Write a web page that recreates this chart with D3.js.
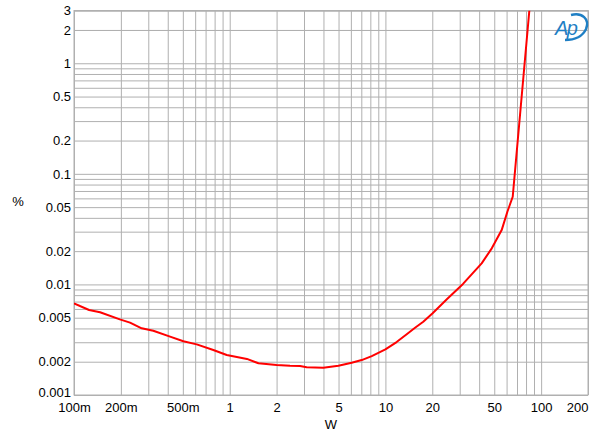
<!DOCTYPE html>
<html>
<head>
<meta charset="utf-8">
<script src="https://cdn.jsdelivr.net/npm/d3@7"></script>
<style>
  html, body { margin: 0; padding: 0; background: #fff; }
  svg { display: block; font-family: "Liberation Sans", Arial, sans-serif; }
</style>
</head>
<body>
<svg id="chart" width="600" height="440"></svg>
<script>
// ---- data ----
const powerW = [0.1, 0.125, 0.147, 0.197, 0.229, 0.272, 0.323, 0.414, 0.504, 0.614, 0.785, 0.957,
  1.29, 1.53, 2.0, 2.44, 2.83, 3.12, 3.99, 4.99, 6.07, 7.04, 8.17, 10.0, 11.8, 13.7, 15.5, 17.5,
  20.1, 24.8, 31.5, 41.5, 48.2, 55.8, 60.7, 65.7, 84];
const thdPct = [0.00675, 0.00587, 0.0056, 0.00483, 0.00451, 0.00401, 0.00381, 0.00337, 0.00306,
  0.00287, 0.00255, 0.0023, 0.00212, 0.001935, 0.00187, 0.00184, 0.00183, 0.00178, 0.001766,
  0.00184, 0.00196, 0.00207, 0.00225, 0.00259, 0.00301, 0.00354, 0.00406, 0.0046, 0.00548,
  0.00733, 0.0101, 0.0155, 0.0212, 0.031, 0.0454, 0.0621, 3.0];

const xTickValues = [0.1, 0.2, 0.5, 1, 2, 5, 10, 20, 50, 100, 200];
const xTickLabels = ["100m", "200m", "500m", "1", "2", "5", "10", "20", "50", "100", "200"];
const yTickValues = [0.001, 0.002, 0.005, 0.01, 0.02, 0.05, 0.1, 0.2, 0.5, 1, 2, 3];
const yTickLabels = ["0.001", "0.002", "0.005", "0.01", "0.02", "0.05", "0.1", "0.2", "0.5", "1", "2", "3"];
const xTitle = "W";
const yTitle = "%";

// ---- layout ----
const svg = d3.select("#chart");
const L = 74, R = 588, T = 10.5, B = 395;
const x = d3.scaleLog().domain([0.1, 200]).range([L, R]);
const y = d3.scaleLog().domain([0.001, 3]).range([B, T]);

// grid values (1..9 per decade)
const xGrid = [];
for (let e = -1; e <= 2; e++) for (let m = 1; m <= 9; m++) {
  const v = +(m * Math.pow(10, e)).toPrecision(3);
  if (v >= 0.1 && v <= 200) xGrid.push(v);
}
xGrid.push(200);
const yGrid = [];
for (let e = -3; e <= 0; e++) for (let m = 1; m <= 9; m++) {
  const v = +(m * Math.pow(10, e)).toPrecision(3);
  if (v >= 0.001 && v <= 3) yGrid.push(v);
}
yGrid.push(2, 3);

const gridColor = "#b0b0b0";

// vertical grid via axis
const gx = svg.append("g").attr("transform", `translate(0,${B})`)
  .call(d3.axisBottom(x).tickValues(xGrid).tickSize(-(B - T)).tickFormat(""));
gx.select(".domain").remove();
gx.selectAll("line").attr("stroke", gridColor).attr("stroke-width", 1);

// horizontal grid via axis
const gy = svg.append("g").attr("transform", `translate(${L},0)`)
  .call(d3.axisLeft(y).tickValues(yGrid).tickSize(-(R - L)).tickFormat(""));
gy.select(".domain").remove();
gy.selectAll("line").attr("stroke", gridColor).attr("stroke-width", 1);

// frame
svg.append("rect").attr("x", L).attr("y", T).attr("width", R - L).attr("height", B - T)
  .attr("fill", "none").attr("stroke", gridColor).attr("stroke-width", 1);

// tick labels
const ax = svg.append("g").attr("transform", `translate(0,${B})`)
  .call(d3.axisBottom(x).tickValues(xTickValues).tickSize(0).tickPadding(0)
    .tickFormat((d, i) => xTickLabels[i]));
ax.select(".domain").remove();
ax.selectAll("text").attr("font-size", 13).attr("fill", "#000")
  .attr("font-family", "Liberation Sans, Arial, sans-serif")
  .attr("dy", null).attr("y", 16.5)
  .attr("text-anchor", (d, i) => i === xTickLabels.length - 1 ? "end" : "middle");

const ay = svg.append("g").attr("transform", `translate(${L},0)`)
  .call(d3.axisLeft(y).tickValues(yTickValues).tickSize(0).tickPadding(3)
    .tickFormat((d, i) => yTickLabels[i]));
ay.select(".domain").remove();
ay.selectAll("text").attr("font-size", 13).attr("fill", "#000")
  .attr("font-family", "Liberation Sans, Arial, sans-serif")
  .attr("y", (d, i) => i === 0 ? -2.5 : 0);

// axis titles
svg.append("text").attr("x", (L + R) / 2).attr("y", 429).attr("text-anchor", "middle")
  .attr("font-size", 13).text(xTitle);
svg.append("text").attr("x", 18).attr("y", 206).attr("text-anchor", "middle")
  .attr("font-size", 13).text(yTitle);

// curve
svg.append("clipPath").attr("id", "clip").append("rect")
  .attr("x", L).attr("y", T).attr("width", R - L).attr("height", B - T);
const line = d3.line().x((d, i) => x(powerW[i])).y((d, i) => y(thdPct[i]));
svg.append("path").datum(thdPct).attr("clip-path", "url(#clip)")
  .attr("d", line).attr("fill", "none").attr("stroke", "#ff0000")
  .attr("stroke-width", 2).attr("stroke-linejoin", "round");

// AP logo
const logo = svg.append("g").attr("transform", "translate(555,13)");
logo.append("path")
  .attr("d", "M16,2 C27,-1 35,6 31,16 C28,23 20,27 10,27")
  .attr("fill", "none").attr("stroke", "#1f7fc4").attr("stroke-width", 2.4);
logo.append("text").attr("x", 0).attr("y", 22).attr("font-size", 20)
  .attr("font-style", "italic").attr("font-family", "Liberation Sans, Arial, sans-serif")
  .attr("fill", "#1f7fc4").attr("letter-spacing", -1.5).text("Ap");
</script>
</body>
</html>
